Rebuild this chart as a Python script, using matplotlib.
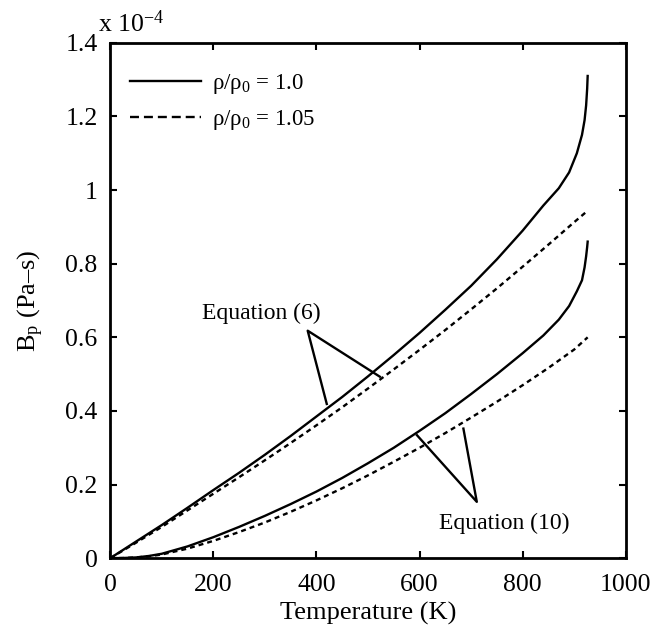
import matplotlib
matplotlib.use('Agg')
import matplotlib.pyplot as plt
from matplotlib.lines import Line2D

plt.rcParams['font.family'] = ['Liberation Serif', 'DejaVu Serif']
plt.rcParams['mathtext.fontset'] = 'custom'
plt.rcParams['mathtext.rm'] = 'Liberation Serif'
plt.rcParams['mathtext.it'] = 'Liberation Serif'

# ---------------------------------------------------------------- #
# data (values in units of 1e-4 Pa-s)
# ---------------------------------------------------------------- #
t_eq6_a = [0, 50, 100, 150, 200, 250, 300, 350, 400, 450, 500, 550, 600, 650, 700, 750, 800,
           840, 870, 890, 905, 915, 920, 923, 925, 926]
b_eq6_a = [0, 0.045, 0.09, 0.137, 0.185, 0.232, 0.281, 0.332, 0.385, 0.438, 0.494, 0.552, 0.612,
           0.675, 0.74, 0.812, 0.89, 0.958, 1.005, 1.048, 1.10, 1.15, 1.19, 1.23, 1.275, 1.31]

t_eq6_b = [0, 50, 100, 150, 200, 250, 300, 350, 400, 450, 500, 550, 600, 650, 700, 750, 800,
           850, 900, 926]
b_eq6_b = [0, 0.042, 0.085, 0.13, 0.175, 0.22, 0.266, 0.313, 0.361, 0.41, 0.461, 0.513, 0.566,
           0.62, 0.676, 0.733, 0.792, 0.852, 0.913, 0.944]

t_eq10_a = [0, 25, 50, 75, 100, 150, 200, 250, 300, 350, 400, 450, 500, 550, 600, 650, 700, 750,
            800, 840, 870, 890, 905, 915, 920, 923, 925, 926]
b_eq10_a = [0, 0.0005, 0.002, 0.006, 0.012, 0.032, 0.057, 0.085, 0.115, 0.147, 0.181, 0.218, 0.258,
            0.30, 0.346, 0.394, 0.446, 0.50, 0.557, 0.605, 0.648, 0.685, 0.725, 0.755, 0.79, 0.82,
            0.845, 0.86]

t_eq10_b = [0, 25, 50, 75, 100, 150, 200, 250, 300, 350, 400, 450, 500, 550, 600, 650, 700, 750,
            800, 850, 900, 926]
b_eq10_b = [0, 0.0004, 0.002, 0.005, 0.01, 0.026, 0.047, 0.071, 0.097, 0.126, 0.157, 0.19, 0.225,
            0.262, 0.30, 0.34, 0.382, 0.425, 0.47, 0.517, 0.567, 0.60]

legend_labels = [r'$\rho/\rho_0$ = 1.0', r'$\rho/\rho_0$ = 1.05']

fig = plt.figure(figsize=(6.56, 6.30), dpi=100)
ax = fig.add_axes([0.168, 0.114, 0.786, 0.818])

lw = 1.7
ax.plot(t_eq6_a, b_eq6_a, color='black', lw=lw)
ax.plot(t_eq6_b, b_eq6_b, color='black', lw=lw, dashes=(2.1, 1.7))
ax.plot(t_eq10_a, b_eq10_a, color='black', lw=lw)
ax.plot(t_eq10_b, b_eq10_b, color='black', lw=lw, dashes=(2.1, 1.7))

# annotation leaders
ax.plot([420, 383, 523], [0.419, 0.618, 0.493], color='black', lw=lw)
ax.plot([595, 711, 685], [0.334, 0.153, 0.352], color='black', lw=lw)
ax.text(293, 0.665, 'Equation (6)', fontsize=17, ha='center', va='center')
ax.text(764, 0.095, 'Equation (10)', fontsize=17, ha='center', va='center')

handles = [Line2D([], [], color='black', lw=lw),
           Line2D([], [], color='black', lw=lw, dashes=(3.8, 2.1))]
leg = ax.legend(handles, legend_labels, loc='upper left', frameon=False,
                fontsize=16.5, handlelength=3.1, handletextpad=0.5,
                bbox_to_anchor=(0.02, 0.962), borderaxespad=0, labelspacing=0.55)

ax.set_xlim(0, 1000)
ax.set_ylim(0, 1.4)
ax.set_xticks([0, 200, 400, 600, 800, 1000])
ax.set_yticks([0, 0.2, 0.4, 0.6, 0.8, 1.0, 1.2, 1.4])
ax.set_yticklabels(['0', '0.2', '0.4', '0.6', '0.8', '1', '1.2', '1.4'])
ax.tick_params(direction='in', top=True, right=True, labelsize=18.5, length=5, width=1.5)
ax.tick_params(axis='x', pad=11.5)
ax.tick_params(axis='y', pad=9)
for s in ax.spines.values():
    s.set_linewidth(2)

ax.set_xlabel('Temperature (K)', fontsize=19, labelpad=4)
ax.set_ylabel(r'B$_\mathrm{p}$ (Pa–s)', fontsize=19, labelpad=14)
ax.text(-0.023, 1.012, r'x 10$^{-4}$', transform=ax.transAxes, fontsize=18.5,
        ha='left', va='bottom')

fig.savefig('out.png', dpi=100)
